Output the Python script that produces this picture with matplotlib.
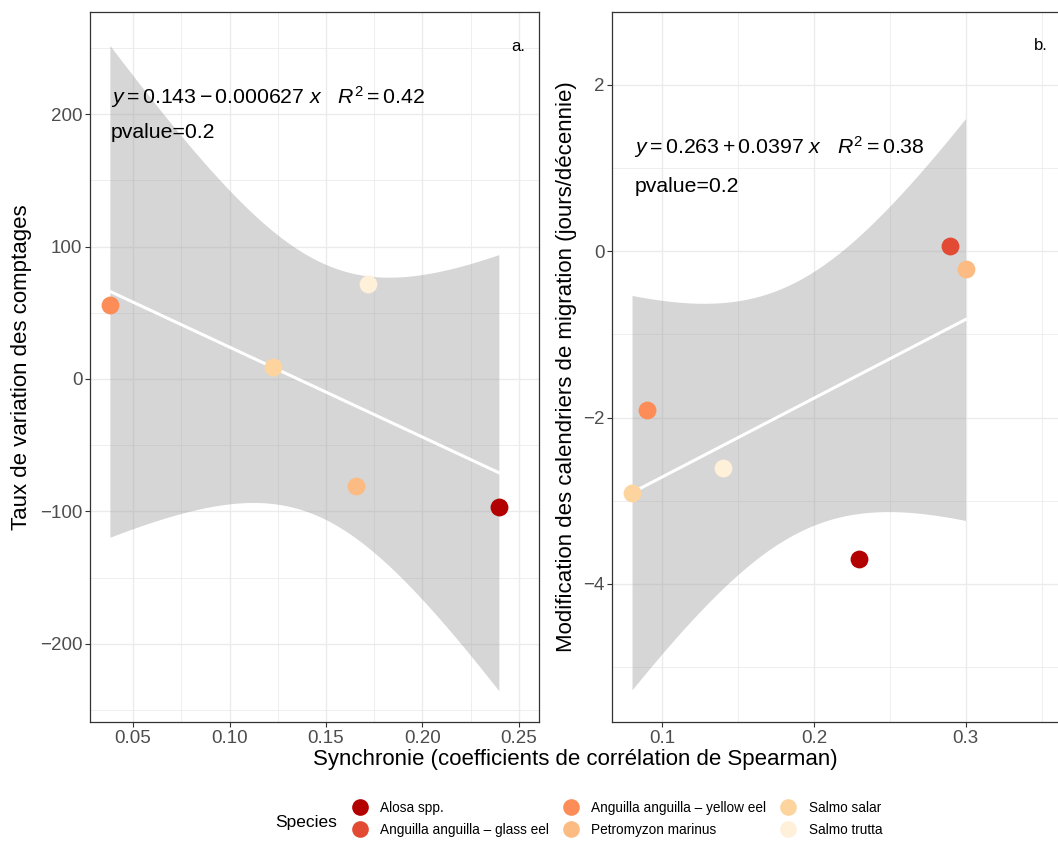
import numpy as np
import matplotlib
matplotlib.use("Agg")
import matplotlib.pyplot as plt
from matplotlib.lines import Line2D

plt.rcParams["font.family"] = ["Liberation Sans", "DejaVu Sans"]
plt.rcParams["mathtext.fontset"] = "custom"
plt.rcParams["mathtext.rm"] = "Liberation Sans"
plt.rcParams["mathtext.it"] = "Liberation Sans:italic"

# species and colours (OrRd, dark -> light)
species = ["Alosa spp.", "Anguilla anguilla \u2013 glass eel", "Anguilla anguilla \u2013 yellow eel",
           "Petromyzon marinus", "Salmo salar", "Salmo trutta"]
colors = ["#B30000", "#E34A33", "#FC8D59", "#FDBB84", "#FDD49E", "#FEF0D9"]

# panel a: synchrony vs count trend
a_species = ["Anguilla anguilla \u2013 yellow eel", "Salmo salar", "Salmo trutta",
             "Petromyzon marinus", "Alosa spp."]
a_x = [0.038, 0.1225, 0.1718, 0.1655, 0.2396]
a_y = [55.8, 9.0, 71.7, -80.8, -96.6]

# panel b: synchrony vs migration timing shift
b_species = ["Anguilla anguilla \u2013 glass eel", "Petromyzon marinus", "Anguilla anguilla \u2013 yellow eel",
             "Salmo trutta", "Salmo salar", "Alosa spp."]
b_x = [0.2899, 0.2998, 0.0899, 0.1398, 0.080, 0.2297]
b_y = [0.068, -0.216, -1.91, -2.603, -2.903, -3.703]

a_eq = r"$y = 0.143 - 0.000627\ x\ \ \ R^2 = 0.42$"
b_eq = r"$y = 0.263 + 0.0397\ x\ \ \ R^2 = 0.38$"

W, H = 1058, 843
fig = plt.figure(figsize=(W / 100, H / 100), dpi=100)


def box(l, t, r, b):
    return [l / W, 1 - b / H, (r - l) / W, (b - t) / H]


def smooth(ax, x, y, t_crit):
    x = np.asarray(x)
    y = np.asarray(y)
    slope, icpt = np.polyfit(x, y, 1)
    n = len(x)
    resid = y - (icpt + slope * x)
    s = np.sqrt(np.sum(resid ** 2) / (n - 2))
    sxx = np.sum((x - x.mean()) ** 2)
    xs = np.linspace(x.min(), x.max(), 80)
    fit = icpt + slope * xs
    se = s * np.sqrt(1 / n + (xs - x.mean()) ** 2 / sxx)
    ax.fill_between(xs, fit - t_crit * se, fit + t_crit * se, color="#999999", alpha=0.4,
                    linewidth=0, zorder=2)
    ax.plot(xs, fit, color="white", linewidth=2.2, zorder=3)


def style(ax):
    ax.set_facecolor("white")
    ax.grid(True, which="major", color="#EBEBEB", linewidth=1.0, zorder=0)
    ax.grid(True, which="minor", color="#EBEBEB", linewidth=0.6, zorder=0)
    ax.set_axisbelow(True)
    for sp in ax.spines.values():
        sp.set_color("#333333")
        sp.set_linewidth(0.9)
    ax.tick_params(which="major", length=3.5, width=0.8, color="#333333",
                   labelsize=13.5, labelcolor="#4D4D4D", pad=2)
    ax.tick_params(which="minor", length=0)


def points(ax, sp_list, x, y):
    for s, xi, yi in zip(sp_list, x, y):
        ax.scatter(xi, yi, s=165, color=colors[species.index(s)], linewidths=0, zorder=4)


# ---- panel a
ax1 = fig.add_axes(box(90, 12, 539, 722))
style(ax1)
smooth(ax1, a_x, a_y, 3.182)
points(ax1, a_species, a_x, a_y)
ax1.set_xlim(0.0277, 0.2604)
ax1.set_ylim(-258.9, 277)
ax1.set_xticks([0.05, 0.10, 0.15, 0.20, 0.25])
ax1.set_xticklabels(["0.05", "0.10", "0.15", "0.20", "0.25"])
ax1.set_xticks([0.075, 0.125, 0.175, 0.225], minor=True)
ax1.set_yticks([-200, -100, 0, 100, 200])
ax1.set_yticklabels(["\u2212200", "\u2212100", "0", "100", "200"])
ax1.set_yticks([-250, -150, -50, 50, 150, 250], minor=True)
ax1.set_ylabel("Taux de variation des comptages", fontsize=16)
ax1.yaxis.set_label_coords((32 - 90) / 449, 0.5)
ax1.text(0.0386, 212.8, a_eq, fontsize=15.3, ha="left", va="center", zorder=5)
ax1.text(0.0386, 185.7, "pvalue=0.2", fontsize=15.3, ha="left", va="center", zorder=5)
ax1.text(0.2495, 250.6, "a.", fontsize=12, ha="center", va="center", zorder=5)

# ---- panel b
ax2 = fig.add_axes(box(612, 12, 1062, 722))
style(ax2)
smooth(ax2, b_x, b_y, 2.776)
points(ax2, b_species, b_x, b_y)
ax2.set_xlim(0.0668, 0.3634)
ax2.set_ylim(-5.66, 2.877)
ax2.set_xticks([0.1, 0.2, 0.3])
ax2.set_xticklabels(["0.1", "0.2", "0.3"])
ax2.set_xticks([0.15, 0.25, 0.35], minor=True)
ax2.set_yticks([-4, -2, 0, 2])
ax2.set_yticklabels(["\u22124", "\u22122", "0", "2"])
ax2.set_yticks([-5, -3, -1, 1], minor=True)
ax2.set_ylabel("Modification des calendriers de migration (jours/d\u00e9cennie)", fontsize=16)
ax2.yaxis.set_label_coords((577 - 612) / 450, 0.5)
ax2.text(0.0815, 1.25, b_eq, fontsize=15.3, ha="left", va="center", zorder=5)
ax2.text(0.0815, 0.78, "pvalue=0.2", fontsize=15.3, ha="left", va="center", zorder=5)
ax2.text(0.3495, 2.47, "b.", fontsize=12, ha="center", va="center", zorder=5)

fig.text(575 / W, 1 - 760 / H, "Synchronie (coefficients de corr\u00e9lation de Spearman)",
         fontsize=16, ha="center", va="center")

# ---- legend
handles = [Line2D([], [], linestyle="none", marker="o", markersize=12, markeredgewidth=0,
                  markerfacecolor=c) for c in colors]
fig.legend(handles, species, loc="center", bbox_to_anchor=(617 / W, 1 - 819 / H), ncol=3,
           frameon=False, fontsize=9.8, handletextpad=0.9, columnspacing=1.0,
           labelspacing=0.55, handlelength=1.2)
fig.text(306 / W, 1 - 822 / H, "Species", fontsize=12.5, ha="center", va="center")

fig.savefig("out.png", dpi=100)
